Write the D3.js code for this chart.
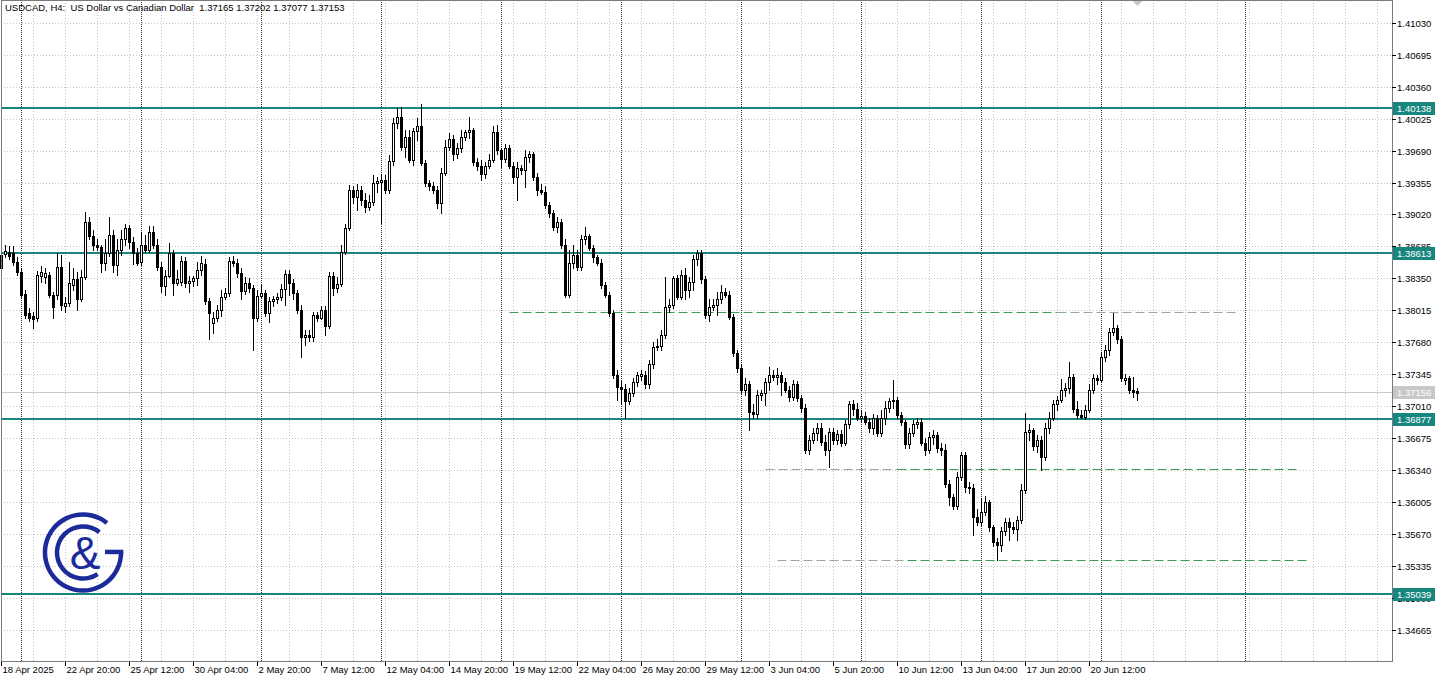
<!DOCTYPE html>
<html><head><meta charset="utf-8">
<script src="https://cdn.jsdelivr.net/npm/d3@7"></script>
<style>
html,body{margin:0;padding:0;background:#fff;overflow:hidden}
svg{display:block;font-family:"Liberation Sans",Arial,sans-serif}
</style></head><body>
<svg id="chart" width="1438" height="678"></svg>
<script>
// ---------------- DATA ----------------
const symbolTitle = "USDCAD, H4:  US Dollar vs Canadian Dollar  1.37165 1.37202 1.37077 1.37153";
const open = [
1.3846,1.3861,1.3863,1.3862,1.3852,1.3842,1.3819,1.3799,1.3796,1.3793,
1.3838,1.3836,1.3839,1.3818,1.3818,1.3847,1.3806,1.3809,1.3828,1.3834,
1.3813,1.3836,1.3894,1.3879,1.3870,1.3868,1.3851,1.3862,1.3881,1.3849,
1.3865,1.3876,1.3888,1.3873,1.3862,1.3852,1.3870,1.3865,1.3884,1.3870,
1.3847,1.3827,1.3838,1.3862,1.3830,1.3831,1.3853,1.3830,1.3832,1.3835,
1.3844,1.3850,1.3811,1.3788,1.3794,1.3802,1.3816,1.3820,1.3853,1.3851,
1.3841,1.3822,1.3830,1.3825,1.3793,1.3817,1.3820,1.3799,1.3811,1.3813,
1.3815,1.3824,1.3840,1.3830,1.3820,1.3802,1.3774,1.3776,1.3774,1.3797,
1.3794,1.3802,1.3785,1.3838,1.3825,1.3829,1.3863,1.3888,1.3928,1.3920,
1.3928,1.3917,1.3910,1.3915,1.3935,1.3936,1.3938,1.3928,1.3958,1.3998,
1.4004,1.3973,1.3983,1.3959,1.3989,1.3995,1.3956,1.3935,1.3932,1.3928,
1.3914,1.3946,1.3973,1.3981,1.3965,1.3972,1.3983,1.3988,1.3991,1.3957,
1.3953,1.3944,1.3953,1.3959,1.3988,1.3970,1.3960,1.3972,1.3953,1.3941,
1.3951,1.3949,1.3962,1.3965,1.3941,1.3928,1.3926,1.3912,1.3904,1.3889,
1.3894,1.3870,1.3818,1.3851,1.3860,1.3847,1.3876,1.3879,1.3867,1.3857,
1.3851,1.3828,1.3818,1.3799,1.3734,1.3721,1.3719,1.3706,1.3715,1.3726,
1.3733,1.3734,1.3724,1.3745,1.3763,1.3764,1.3776,1.3805,1.3807,1.3835,
1.3816,1.3839,1.3823,1.3831,1.3855,1.3862,1.3834,1.3797,1.3805,1.3807,
1.3813,1.3821,1.3818,1.3795,1.3757,1.3741,1.3718,1.3724,1.3695,1.3693,
1.3713,1.3715,1.3726,1.3734,1.3732,1.3734,1.3726,1.3718,1.3711,1.3724,
1.3710,1.3699,1.3655,1.3666,1.3673,1.3678,1.3664,1.3655,1.3674,1.3666,
1.3672,1.3663,1.3682,1.3703,1.3698,1.3689,1.3691,1.3685,1.3678,1.3689,
1.3673,1.3689,1.3699,1.3706,1.3708,1.3692,1.3684,1.3661,1.3673,1.3682,
1.3684,1.3663,1.3655,1.3669,1.3671,1.3657,1.3655,1.3619,1.3606,1.3596,
1.3627,1.3650,1.3616,1.3615,1.3585,1.3580,1.3590,1.3601,1.3574,1.3559,
1.3556,1.3570,1.3580,1.3574,1.3572,1.3582,1.3613,1.3674,1.3676,1.3659,
1.3666,1.3648,1.3678,1.3689,1.3703,1.3708,1.3718,1.3720,1.3732,1.3698,
1.3692,1.3690,1.3697,1.3718,1.3731,1.3729,1.3753,1.3760,1.3779,1.3783,
1.3771,1.3728,1.3731,1.3718,1.37165];
const high = [
1.3868,1.3870,1.3869,1.3869,1.3857,1.3846,1.3823,1.3804,1.3800,1.3843,
1.3848,1.3846,1.3842,1.3821,1.3862,1.3860,1.3815,1.3852,1.3846,1.3842,
1.3844,1.3905,1.3899,1.3886,1.3876,1.3870,1.3876,1.3899,1.3886,1.3876,
1.3886,1.3892,1.3891,1.3878,1.3867,1.3884,1.3881,1.3890,1.3890,1.3876,
1.3852,1.3844,1.3872,1.3865,1.3844,1.3859,1.3857,1.3838,1.3838,1.3852,
1.3859,1.3855,1.3814,1.3800,1.3807,1.3823,1.3825,1.3857,1.3859,1.3855,
1.3846,1.3836,1.3835,1.3828,1.3823,1.3828,1.3823,1.3815,1.3817,1.3820,
1.3829,1.3844,1.3844,1.3834,1.3823,1.3807,1.3781,1.3781,1.3800,1.3800,
1.3806,1.3806,1.3842,1.3842,1.3836,1.3870,1.3892,1.3933,1.3932,1.3934,
1.3932,1.3924,1.3922,1.3943,1.3941,1.3944,1.3943,1.3964,1.4003,1.4014,
1.4015,1.3991,1.3991,1.3993,1.4003,1.4018,1.3959,1.3938,1.3936,1.3932,
1.3951,1.3980,1.3987,1.3985,1.3977,1.3991,1.3991,1.4004,1.3993,1.3961,
1.3959,1.3957,1.3965,1.3995,1.3996,1.3972,1.3976,1.3975,1.3957,1.3957,
1.3954,1.3970,1.3969,1.3968,1.3945,1.3934,1.3932,1.3915,1.3907,1.3899,
1.3897,1.3876,1.3865,1.3870,1.3865,1.3880,1.3889,1.3882,1.3870,1.3860,
1.3855,1.3831,1.3821,1.3802,1.3739,1.3727,1.3724,1.3720,1.3731,1.3737,
1.3739,1.3738,1.3750,1.3768,1.3771,1.3781,1.3836,1.3813,1.3838,1.3839,
1.3844,1.3846,1.3836,1.3860,1.3865,1.3865,1.3837,1.3813,1.3813,1.3821,
1.3828,1.3825,1.3822,1.3798,1.3760,1.3745,1.3731,1.3727,1.3703,1.3718,
1.3718,1.3731,1.3742,1.3739,1.3741,1.3737,1.3731,1.3722,1.3729,1.3727,
1.3713,1.3703,1.3671,1.3678,1.3683,1.3683,1.3671,1.3678,1.3678,1.3676,
1.3676,1.3687,1.3706,1.3708,1.3704,1.3697,1.3695,1.3689,1.3693,1.3692,
1.3697,1.3706,1.3710,1.3729,1.3711,1.3695,1.3687,1.3678,1.3687,1.3689,
1.3689,1.3668,1.3674,1.3676,1.3674,1.3662,1.3661,1.3624,1.3609,1.3632,
1.3653,1.3653,1.3622,1.3620,1.3593,1.3605,1.3607,1.3603,1.3577,1.3563,
1.3574,1.3584,1.3584,1.3580,1.3586,1.3619,1.3694,1.3682,1.3678,1.3671,
1.3670,1.3683,1.3695,1.3708,1.3712,1.3730,1.3725,1.3747,1.3735,1.3707,
1.3697,1.3702,1.3724,1.3735,1.3734,1.3758,1.3765,1.3783,1.3799,1.3786,
1.3775,1.3735,1.3733,1.3732,1.37202];
const low = [
1.3842,1.3857,1.3855,1.3849,1.3839,1.3815,1.3794,1.3790,1.3783,1.3790,
1.3831,1.3830,1.3815,1.3794,1.3813,1.3802,1.3800,1.3806,1.3823,1.3802,
1.3811,1.3834,1.3876,1.3865,1.3865,1.3842,1.3844,1.3859,1.3842,1.3839,
1.3860,1.3870,1.3867,1.3850,1.3849,1.3849,1.3863,1.3863,1.3867,1.3844,
1.3821,1.3818,1.3836,1.3818,1.3828,1.3828,1.3826,1.3821,1.3827,1.3828,
1.3839,1.3808,1.3771,1.3778,1.3790,1.3796,1.3813,1.3817,1.3848,1.3836,
1.3813,1.3819,1.3821,1.3760,1.3790,1.3815,1.3796,1.3789,1.3806,1.3809,
1.3812,1.3807,1.3818,1.3813,1.3799,1.3753,1.3765,1.3769,1.3769,1.3790,
1.3792,1.3776,1.3783,1.3818,1.3821,1.3827,1.3861,1.3886,1.3914,1.3907,
1.3912,1.3905,1.3907,1.3912,1.3926,1.3893,1.3924,1.3924,1.3954,1.3993,
1.3970,1.3962,1.3957,1.3954,1.3980,1.3954,1.3932,1.3928,1.3924,1.3909,
1.3904,1.3943,1.3970,1.3959,1.3961,1.3968,1.3980,1.3982,1.3954,1.3949,
1.3938,1.3940,1.3951,1.3957,1.3965,1.3952,1.3957,1.3951,1.3935,1.3917,
1.3944,1.3931,1.3957,1.3938,1.3922,1.3923,1.3909,1.3899,1.3886,1.3884,
1.3867,1.3815,1.3815,1.3846,1.3844,1.3844,1.3871,1.3865,1.3852,1.3849,
1.3825,1.3815,1.3796,1.3731,1.3708,1.3703,1.3689,1.3703,1.3712,1.3722,
1.3729,1.3720,1.3720,1.3741,1.3760,1.3760,1.3773,1.3800,1.3804,1.3813,
1.3813,1.3813,1.3816,1.3823,1.3849,1.3830,1.3794,1.3790,1.3802,1.3797,
1.3809,1.3815,1.3792,1.3754,1.3737,1.3715,1.3713,1.3676,1.3689,1.3689,
1.3708,1.3702,1.3718,1.3729,1.3724,1.3713,1.3716,1.3706,1.3708,1.3706,
1.3695,1.3652,1.3651,1.3663,1.3666,1.3660,1.3650,1.3637,1.3661,1.3661,
1.3659,1.3660,1.3678,1.3692,1.3687,1.3685,1.3682,1.3674,1.3672,1.3670,
1.3670,1.3682,1.3695,1.3699,1.3689,1.3681,1.3657,1.3657,1.3670,1.3678,
1.3660,1.3650,1.3652,1.3661,1.3653,1.3650,1.3616,1.3598,1.3593,1.3593,
1.3624,1.3611,1.3610,1.3566,1.3577,1.3577,1.3587,1.3570,1.3555,1.3540,
1.3549,1.3566,1.3561,1.3568,1.3561,1.3579,1.3610,1.3666,1.3655,1.3653,
1.3634,1.3645,1.3673,1.3687,1.3697,1.3705,1.3712,1.3715,1.3695,1.3689,
1.3689,1.3688,1.3695,1.3715,1.3724,1.3726,1.3748,1.3755,1.3776,1.3767,
1.3727,1.3724,1.3715,1.3711,1.37077];
const close = [
1.3860,1.3864,1.3859,1.3852,1.3842,1.3818,1.3797,1.3794,1.3792,1.3839,
1.3842,1.3841,1.3818,1.3805,1.3847,1.3807,1.3809,1.3830,1.3834,1.3813,
1.3836,1.3894,1.3879,1.3870,1.3868,1.3851,1.3862,1.3881,1.3849,1.3865,
1.3876,1.3888,1.3873,1.3862,1.3851,1.3870,1.3865,1.3884,1.3870,1.3847,
1.3827,1.3838,1.3862,1.3830,1.3834,1.3853,1.3830,1.3832,1.3835,1.3844,
1.3851,1.3811,1.3799,1.3794,1.3802,1.3816,1.3820,1.3853,1.3851,1.3841,
1.3822,1.3830,1.3825,1.3793,1.3817,1.3820,1.3799,1.3811,1.3813,1.3815,
1.3824,1.3840,1.3830,1.3820,1.3802,1.3774,1.3776,1.3774,1.3797,1.3794,
1.3802,1.3785,1.3838,1.3825,1.3829,1.3863,1.3888,1.3928,1.3920,1.3928,
1.3917,1.3910,1.3915,1.3935,1.3937,1.3938,1.3928,1.3958,1.3998,1.4004,
1.3973,1.3983,1.3959,1.3989,1.3995,1.3956,1.3935,1.3932,1.3928,1.3914,
1.3946,1.3973,1.3981,1.3965,1.3972,1.3983,1.3988,1.3991,1.3957,1.3953,
1.3944,1.3953,1.3959,1.3988,1.3970,1.3960,1.3972,1.3953,1.3941,1.3951,
1.3949,1.3962,1.3965,1.3941,1.3928,1.3926,1.3912,1.3904,1.3889,1.3894,
1.3870,1.3818,1.3851,1.3860,1.3847,1.3876,1.3879,1.3867,1.3857,1.3851,
1.3828,1.3818,1.3799,1.3734,1.3721,1.3719,1.3706,1.3715,1.3726,1.3734,
1.3735,1.3724,1.3745,1.3763,1.3764,1.3776,1.3805,1.3807,1.3835,1.3816,
1.3839,1.3823,1.3831,1.3855,1.3862,1.3834,1.3797,1.3805,1.3807,1.3813,
1.3821,1.3818,1.3795,1.3757,1.3741,1.3718,1.3724,1.3695,1.3693,1.3713,
1.3715,1.3726,1.3734,1.3732,1.3734,1.3726,1.3718,1.3711,1.3724,1.3710,
1.3699,1.3655,1.3666,1.3673,1.3678,1.3664,1.3655,1.3674,1.3666,1.3672,
1.3663,1.3682,1.3703,1.3698,1.3689,1.3691,1.3685,1.3678,1.3689,1.3673,
1.3689,1.3699,1.3706,1.3708,1.3692,1.3684,1.3661,1.3673,1.3682,1.3684,
1.3663,1.3655,1.3669,1.3671,1.3657,1.3655,1.3619,1.3606,1.3596,1.3627,
1.3650,1.3616,1.3615,1.3585,1.3580,1.3590,1.3601,1.3574,1.3559,1.3556,
1.3570,1.3580,1.3574,1.3572,1.3582,1.3613,1.3674,1.3676,1.3659,1.3666,
1.3648,1.3678,1.3689,1.3703,1.3708,1.3718,1.3720,1.3732,1.3698,1.3692,
1.3690,1.3697,1.3718,1.3731,1.3729,1.3753,1.3760,1.3779,1.3783,1.3771,
1.3731,1.3731,1.3718,1.3716,1.37153];

const timeLabels = ["18 Apr 2025","22 Apr 20:00","25 Apr 12:00","30 Apr 04:00","2 May 20:00","7 May 12:00",
  "12 May 04:00","14 May 20:00","19 May 12:00","22 May 04:00","26 May 20:00","29 May 12:00",
  "3 Jun 04:00","5 Jun 20:00","10 Jun 12:00","13 Jun 04:00","17 Jun 20:00","20 Jun 12:00"];
const timeLabelBars = [0,16,32,48,64,80,96,112,128,144,160,176,192,208,224,240,256,272];
const weekStartBars = [5,35,65,95,125,155,185,215,245,275,311];
const priceTicks = ["1.34665","1.35000","1.35335","1.35670","1.36005","1.36340","1.36675","1.37010","1.37345",
  "1.37680","1.38015","1.38350","1.38685","1.39020","1.39355","1.39690","1.40025","1.40360","1.40695","1.41030"];
const levelPrices = [1.40138, 1.38613, 1.36877, 1.35039];
const levelLabels = ["1.40138","1.38613","1.36877","1.35039"];
const currentPrice = 1.37156;
const currentLabel = "1.37156";
// dashed horizontal segments: price, start bar, end bar, kind
const segPrice = [1.3800, 1.3800, 1.3635, 1.3635, 1.3540, 1.3540];
const segStart = [127, 264, 191, 224, 194, 226.5];
const segEnd   = [264, 309, 224, 324, 226.5, 327];
const segKind  = ["green","grey","grey","green","grey","green"];

// ---------------- LAYOUT ----------------
const W = 1438, H = 678;
const plotRight = 1392, plotBottom = 661;
const svg = d3.select("#chart");

const y = d3.scaleLinear().domain([1.34340, 1.41268]).range([plotBottom, 0]);
const x = d3.scaleLinear().domain([0, 1]).range([1.5, 5.5]); // bar centre
const yp = v => Math.round(y(v));

svg.append("rect").attr("width", W).attr("height", H).attr("fill", "#fff");

const grid = svg.append("g");
// horizontal grid
priceTicks.forEach(t => {
  grid.append("line").attr("x1", 1).attr("x2", plotRight)
    .attr("y1", yp(+t) + 0.5).attr("y2", yp(+t) + 0.5)
    .attr("stroke", "#c4c4c4").attr("stroke-dasharray", "1,2");
});
// vertical grid every 8 bars
const vBars = d3.range(0, 348, 8);
vBars.forEach(b => {
  const xx = x(b);
  if (xx < plotRight) grid.append("line").attr("x1", xx).attr("x2", xx).attr("y1", 0).attr("y2", plotBottom)
    .attr("stroke", "#c4c4c4").attr("stroke-dasharray", "1,2");
});
// week separators
weekStartBars.forEach(b => {
  grid.append("line").attr("x1", x(b)).attr("x2", x(b)).attr("y1", 0).attr("y2", plotBottom)
    .attr("stroke", "#303030").attr("stroke-dasharray", "1,1");
});

// logo
const logo = svg.append("g").attr("transform", "translate(83,552.5)").attr("fill", "#1c2b9a");
const deg = Math.PI / 180;
logo.append("path").attr("d", d3.arc().innerRadius(35.8).outerRadius(40.3).startAngle(-270 * deg).endAngle(39 * deg)());
logo.append("path").attr("d", d3.arc().innerRadius(23.8).outerRadius(28.3).startAngle(-214 * deg).endAngle(39 * deg)());
logo.append("rect").attr("x", 22).attr("y", -2.8).attr("width", 18.3).attr("height", 4.5);
logo.append("text").attr("x", 2).attr("y", 16).attr("text-anchor", "middle")
  .attr("font-size", 46).attr("font-family", "Liberation Sans, Arial, sans-serif").text("&");

// current price line
svg.append("line").attr("x1", 1).attr("x2", plotRight).attr("y1", yp(currentPrice) + 0.5).attr("y2", yp(currentPrice) + 0.5)
  .attr("stroke", "#c8c8c8");

// level lines
levelPrices.forEach(p => {
  svg.append("rect").attr("x", 1).attr("width", plotRight - 1).attr("y", yp(p) - 1).attr("height", 2)
    .attr("fill", "#17877e");
});

// dashed segments
segPrice.forEach((p, i) => {
  svg.append("line").attr("x1", x(segStart[i])).attr("x2", x(segEnd[i]))
    .attr("y1", yp(p) + 0.5).attr("y2", yp(p) + 0.5)
    .attr("stroke", segKind[i] === "green" ? "#3e9d52" : "#98aa9c")
    .attr("stroke-dasharray", "9,4");
});

// candles
const candles = svg.append("g");
open.forEach((o, i) => {
  const c = close[i], h = high[i], l = low[i];
  const cx = x(i);
  const left = cx - 1.5;
  const yh = yp(h), yl = yp(l);
  candles.append("rect").attr("x", left + 1).attr("width", 1).attr("y", yh).attr("height", Math.max(1, yl - yh + 1)).attr("fill", "#000");
  const yo = yp(o), yc = yp(c);
  const top = Math.min(yo, yc), bot = Math.max(yo, yc);
  candles.append("rect").attr("x", left).attr("width", 3).attr("y", top).attr("height", bot - top + 1).attr("fill", "#000");
  if (c > o && bot - top >= 2) {
    candles.append("rect").attr("x", left + 1).attr("width", 1).attr("y", top + 1).attr("height", bot - top - 1).attr("fill", "#fff");
  }
});

// frame
svg.append("line").attr("x1", 1.5).attr("x2", 1.5).attr("y1", 0).attr("y2", plotBottom).attr("stroke", "#7a7a7a");
svg.append("line").attr("x1", 1).attr("x2", plotRight).attr("y1", 0.5).attr("y2", 0.5).attr("stroke", "#7a7a7a");
svg.append("line").attr("x1", 1).attr("x2", plotRight + 1).attr("y1", plotBottom + 0.5).attr("y2", plotBottom + 0.5).attr("stroke", "#7a7a7a");
svg.append("line").attr("x1", plotRight + 0.5).attr("x2", plotRight + 0.5).attr("y1", 0).attr("y2", plotBottom + 1).attr("stroke", "#7a7a7a");

// shift marker
const lastX = x(open.length - 1);
svg.append("path").attr("d", `M${lastX - 5},1 L${lastX + 5},1 L${lastX},6 Z`).attr("fill", "#c8c8c8");

// price axis
const yAxis = svg.append("g").attr("font-size", 9.5).attr("fill", "#000");
priceTicks.forEach(t => {
  const yy = yp(+t);
  yAxis.append("line").attr("x1", plotRight).attr("x2", plotRight + 4).attr("y1", yy + 0.5).attr("y2", yy + 0.5).attr("stroke", "#000");
  yAxis.append("text").attr("x", plotRight + 5).attr("y", yy + 4).text(t);
});
// current price label
svg.append("rect").attr("x", plotRight + 1).attr("y", yp(currentPrice) - 6).attr("width", 42).attr("height", 13).attr("fill", "#c8c8c8");
svg.append("text").attr("x", plotRight + 5).attr("y", yp(currentPrice) + 4).attr("font-size", 9.5).attr("fill", "#fff").text(currentLabel);
// level labels
levelPrices.forEach((p, i) => {
  svg.append("rect").attr("x", plotRight + 1).attr("y", yp(p) - 6).attr("width", 42).attr("height", 13).attr("fill", "#17877e");
  svg.append("text").attr("x", plotRight + 5).attr("y", yp(p) + 4).attr("font-size", 9.5).attr("fill", "#fff").text(levelLabels[i]);
});

// time axis
const xAxis = svg.append("g").attr("font-size", 9.5).attr("fill", "#000");
timeLabels.forEach((t, i) => {
  const xx = x(timeLabelBars[i]);
  xAxis.append("line").attr("x1", xx).attr("x2", xx).attr("y1", plotBottom + 1).attr("y2", plotBottom + 5).attr("stroke", "#000");
  xAxis.append("text").attr("x", xx + 1).attr("y", plotBottom + 12).text(t);
});

// title
svg.append("text").attr("x", 5).attr("y", 11).attr("font-size", 9.5).attr("fill", "#000")
  .style("white-space", "pre").text(symbolTitle);
</script>
</body></html>
